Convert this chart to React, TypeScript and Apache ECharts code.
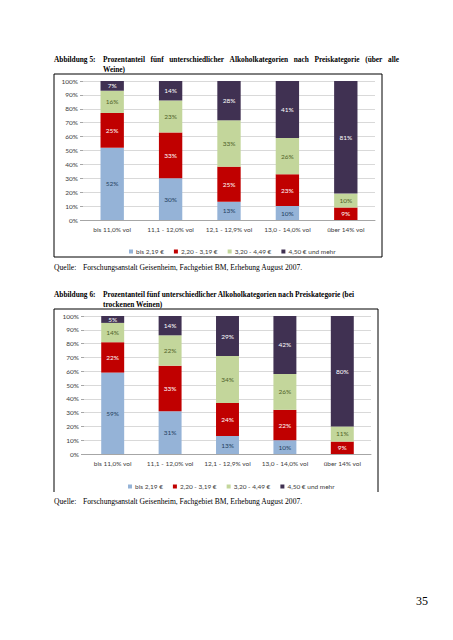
import React, { useEffect, useRef } from "react";
import * as echarts from "echarts";

// ---- Data ----
const categories = ["bis 11,0% vol", "11,1 - 12,0% vol", "12,1 - 12,9% vol", "13,0 - 14,0% vol", "über 14% vol"];
const seriesNames = ["bis 2,19 €", "2,20 - 3,19 €", "3,20 - 4,49 €", "4,50 € und mehr"];

// Abbildung 5 (über alle Weine)
const all_bis219 = [52, 30, 13, 10, 0];
const all_220_319 = [25, 33, 25, 23, 9];
const all_320_449 = [16, 23, 33, 26, 10];
const all_450plus = [7, 14, 28, 41, 81];

// Abbildung 6 (bei trockenen Weinen)
const dry_bis219 = [59, 31, 13, 10, 0];
const dry_220_319 = [22, 33, 24, 22, 9];
const dry_320_449 = [14, 22, 34, 26, 11];
const dry_450plus = [5, 14, 29, 42, 80];

const title5Head = "Abbildung 5:";
const title5Line1 = "Prozentanteil fünf unterschiedlicher Alkoholkategorien nach Preiskategorie (über alle";
const title5Line2 = "Weine)";
const title6Head = "Abbildung 6:";
const title6Line1 = "Prozentanteil fünf unterschiedlicher Alkoholkategorien nach Preiskategorie (bei";
const title6Line2 = "trockenen Weinen)";
const sourceHead = "Quelle:";
const sourceText = "Forschungsanstalt Geisenheim, Fachgebiet BM, Erhebung August 2007.";
const pageNumber = "35";

const colors = ["#95B3D7", "#C00000", "#C3D69B", "#403152"];
const labelColors = ["#243F60", "#FFFFFF", "#4F6228", "#FFFFFF"];

const SERIF = '"Liberation Serif", "Times New Roman", serif';
const SANS = "Lato, 'Open Sans', sans-serif";

function measure(text: string, font: string): number {
  const ctx = document.createElement("canvas").getContext("2d")!;
  ctx.font = font;
  return ctx.measureText(text).width;
}

function justified(words: string[], x0: number, x1: number, y: number, fs: number, weight: string) {
  const font = `${weight} ${fs}px ${SERIF}`;
  const widths = words.map((w) => measure(w, font));
  const total = widths.reduce((a, b) => a + b, 0);
  const gap = (x1 - x0 - total) / (words.length - 1);
  let x = x0;
  return words.map((w, i) => {
    const el = textEl(w, x, y, fs, weight);
    x += widths[i] + gap;
    return el;
  });
}

function textEl(text: string, x: number, y: number, fs: number, weight: string) {
  return {
    type: "text",
    x,
    y,
    silent: true,
    style: {
      text,
      fontSize: fs,
      fontFamily: SERIF,
      fontWeight: weight,
      fill: "#000",
      verticalAlign: "middle",
      align: "left",
    },
  };
}

export default function App() {
  const ref = useRef<HTMLDivElement>(null);
  useEffect(() => {
    if (!ref.current) return;
    const chart = echarts.init(ref.current, undefined, { renderer: "svg" });

    const groups = [
      [all_bis219, all_220_319, all_320_449, all_450plus],
      [dry_bis219, dry_220_319, dry_320_449, dry_450plus],
    ];

    const series: any[] = [];
    groups.forEach((arrs, g) => {
      const totals = categories.map((_, i) => arrs.reduce((s, a) => s + a[i], 0));
      arrs.forEach((arr, k) => {
        series.push({
          type: "bar",
          name: seriesNames[k],
          stack: "s" + g,
          xAxisIndex: g,
          yAxisIndex: g,
          barWidth: "40%",
          itemStyle: { color: colors[k] },
          label: {
            show: true,
            position: "inside",
            fontSize: 6.5,
            fontFamily: SANS,
            color: labelColors[k],
            formatter: (p: any) => (arr[p.dataIndex] ? arr[p.dataIndex] + "%" : ""),
          },
          data: arr.map((v, i) => (v ? (v / totals[i]) * 100 : null)),
        });
      });
    });

    const xAxis = (g: number) => ({
      type: "category",
      gridIndex: g,
      data: categories,
      axisLine: { lineStyle: { color: "#A6A6A6", width: 1 } },
      axisTick: { length: 3, lineStyle: { color: "#A6A6A6" } },
      axisLabel: { interval: 0, fontSize: 6.5, fontFamily: SANS, color: "#404040", margin: 6 },
    });
    const yAxis = (g: number) => ({
      type: "value",
      gridIndex: g,
      min: 0,
      max: 100,
      interval: 10,
      axisLine: { show: false },
      axisTick: { show: true, length: 3, lineStyle: { color: "#A6A6A6" } },
      splitLine: { lineStyle: { color: "#D9D9D9", width: 1 } },
      axisLabel: { formatter: "{value}%", fontSize: 6.5, fontFamily: SANS, color: "#404040", margin: 5 },
    });
    const legend = (left: number, top: number) => ({
      left,
      top,
      icon: "rect",
      itemWidth: 4,
      itemHeight: 4,
      itemGap: 10,
      data: seriesNames,
      selectedMode: false,
      textStyle: { fontSize: 6.5, fontFamily: SANS, color: "#404040", padding: [0, 0, 0, -2] },
    });

    // font sizes fitted to the page widths
    const tfs = (10 * 252) / measure(title6Line1, `bold 10px ${SERIF}`);
    const sfs = (10 * 220) / measure(sourceText, `10px ${SERIF}`);

    const graphics: any[] = [
      textEl(title5Head, 54, 59, tfs, "bold"),
      ...justified(title5Line1.split(" "), 103, 399, 59, tfs, "bold"),
      textEl(title5Line2, 103, 69, tfs, "bold"),
      {
        type: "rect",
        silent: true,
        shape: { x: 54, y: 74, width: 328, height: 183 },
        style: { fill: "none", stroke: "#000", lineWidth: 1 },
      },
      textEl(sourceHead, 54, 267, sfs, "normal"),
      textEl(sourceText, 83, 267, sfs, "normal"),

      textEl(title6Head, 54, 294, tfs, "bold"),
      textEl(title6Line1, 103, 294, tfs, "bold"),
      textEl(title6Line2, 103, 304, tfs, "bold"),
      {
        type: "polyline",
        silent: true,
        shape: { points: [[54, 492], [54, 309], [378, 309], [378, 492]] },
        style: { fill: "none", stroke: "#000", lineWidth: 1 },
      },
      textEl(sourceHead, 54, 501, sfs, "normal"),
      textEl(sourceText, 83, 501, sfs, "normal"),
      {
        type: "text",
        x: 428,
        y: 601,
        silent: true,
        style: { text: pageNumber, fontSize: 12, fontFamily: SERIF, fill: "#000", align: "right", verticalAlign: "middle" },
      },
    ];

    chart.setOption({
      animation: false,
      backgroundColor: "#fff",
      grid: [
        { left: 83, top: 81, width: 292, height: 139 },
        { left: 84, top: 316, width: 287, height: 138 },
      ],
      xAxis: [xAxis(0), xAxis(1)],
      yAxis: [yAxis(0), yAxis(1)],
      legend: [legend(124, 243), legend(123, 478)],
      series,
      graphic: graphics,
    });
    return () => chart.dispose();
  }, []);
  return <div ref={ref} style={{ position: "absolute", left: 0, top: 0, width: 453, height: 640 }} />;
}
